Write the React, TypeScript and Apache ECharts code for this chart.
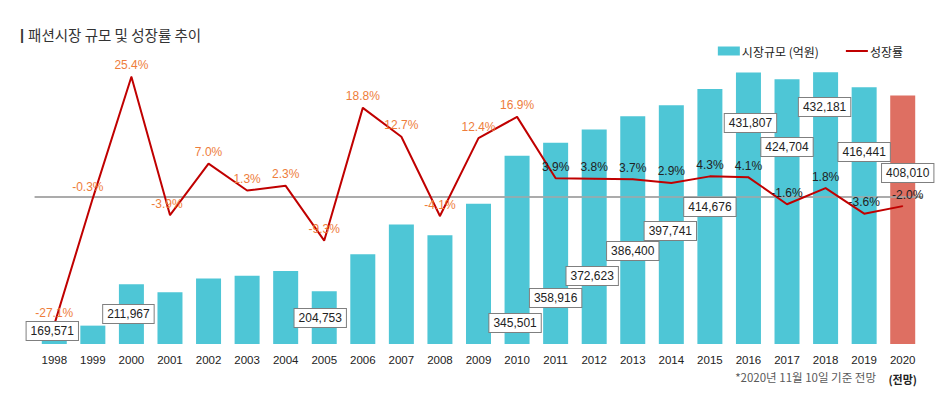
import React, { useEffect, useRef } from "react";
import * as echarts from "echarts";

const years = [
  "1998", "1999", "2000", "2001", "2002", "2003", "2004", "2005", "2006", "2007", "2008", "2009",
  "2010", "2011", "2012", "2013", "2014", "2015", "2016", "2017", "2018", "2019", "2020",
];
const marketSize = [
  169571, 169062, 211967, 203700, 217960, 220793, 225871, 204753, 243247, 274139, 262899, 295499,
  345501, 358916, 372623, 386400, 397741, 414676, 431807, 424704, 432181, 416441, 408010,
];
const growthRate = [
  -27.1, -0.3, 25.4, -3.9, 7.0, 1.3, 2.3, -9.3, 18.8, 12.7, -4.1, 12.4,
  16.9, 3.9, 3.8, 3.7, 2.9, 4.3, 4.1, -1.6, 1.8, -3.6, -2.0,
];
const labeledYears = [
  "1998", "2000", "2005", "2010", "2011", "2012", "2013", "2014", "2015", "2016", "2017", "2018", "2019", "2020",
];
const forecastYear = "2020";
const orangeLabelUntil = "2010";

// label placement (style): [dx, lift above baseline of the label centre]
const barLabelPlacement: Record<string, [number, number]> = {
  "1998": [-2, 13], "2000": [-3, 30], "2005": [-4, 26], "2010": [-2, 21], "2011": [0, 46],
  "2012": [-2, 68], "2013": [0, 93], "2014": [-1, 113], "2015": [0, 137], "2016": [2, 221],
  "2017": [0, 197], "2018": [-1, 237], "2019": [0, 192], "2020": [5, 171],
};
// small label nudges (style) for the growth-rate labels
const lineLabelNudge: Record<string, number> = { "1999": -5, "2001": -3, "2020": 5 };

const BAR = "#4EC6D6";
const FORECAST = "#DE6F62";
const LINE = "#C00000";
const ORANGE = "#EE7D3B";
const FONT = "'Liberation Sans', Arial, sans-serif";
const KFONT = "'Noto Sans CJK KR', 'Noto Sans', sans-serif";

export default function App() {
  const ref = useRef<HTMLDivElement>(null);
  useEffect(() => {
    document.body.style.margin = "0";
    if (!ref.current) return;
    const chart = echarts.init(ref.current, null, { renderer: "svg" });
    const BOXH = 18;
    const option: any = {
      animation: false,
      backgroundColor: "#ffffff",
      title: {
        text: "{b|| }패션시장 규모 및 성장률 추이",
        left: 15,
        top: 22,
        textStyle: {
          fontSize: 14.5,
          fontWeight: "normal",
          color: "#333333",
          fontFamily: KFONT,
          rich: { b: { fontSize: 14.5, fontWeight: "bold", color: "#333333", fontFamily: FONT } },
        },
      },
      legend: {
        right: 42,
        top: 40,
        itemWidth: 22,
        itemHeight: 9,
        itemGap: 26,
        textStyle: { fontSize: 12, color: "#222", fontFamily: KFONT, padding: [0, 0, 0, -3] },
        data: [
          { name: "시장규모 (억원)", icon: "rect" },
          { name: "성장률", itemStyle: { opacity: 0 } },
        ],
      },
      grid: { left: 35, right: 28, top: 55, bottom: 52 },
      xAxis: {
        type: "category",
        data: years,
        axisTick: { show: false },
        axisLine: { lineStyle: { color: "#A6A6A6", width: 1.5 } },
        axisLabel: {
          interval: 0,
          margin: 6,
          fontSize: 11.5,
          lineHeight: 19,
          color: "#222",
          fontFamily: "'Liberation Sans Narrow', 'Liberation Sans', Arial, sans-serif",
          formatter: (v: string) => (v === forecastYear ? v + "\n{f|(전망)}" : v),
          rich: { f: { fontSize: 11, fontWeight: "bold", fontFamily: KFONT, color: "#222", lineHeight: 19 } },
        },
      },
      yAxis: [
        { type: "value", min: 150000, max: 450000, show: false, splitLine: { show: false } },
        { type: "value", min: -31.2, max: 30, show: false, splitLine: { show: false } },
      ],
      series: [
        {
          name: "시장규모 (억원)",
          type: "bar",
          barWidth: 25,
          itemStyle: { color: BAR },
          z: 1,
          data: marketSize.map((v, i) =>
            years[i] === forecastYear ? { value: v, itemStyle: { color: FORECAST } } : v
          ),
        },
        {
          name: "성장률",
          type: "line",
          yAxisIndex: 1,
          symbol: "circle",
          symbolSize: 1,
          showSymbol: true,
          z: 3,
          lineStyle: { color: LINE, width: 2 },
          itemStyle: { color: LINE },
          label: {
            show: true,
            position: "top",
            distance: 5,
            fontSize: 12,
            fontFamily: FONT,
            formatter: (p: any) => Number(p.value).toFixed(1) + "%",
          },
          data: growthRate.map((v, i) => ({
            value: v,
            label: {
              color: years[i] <= orangeLabelUntil ? ORANGE : "#222",
              offset: [lineLabelNudge[years[i]] || 0, 0],
            },
          })),
          markLine: {
            silent: true,
            symbol: ["none", "none"],
            label: { show: false },
            lineStyle: { color: "#A6A6A6", width: 1.5, type: "solid" },
            data: [{ yAxis: 0 }],
            z: 2,
          },
        },
        {
          name: "labels",
          type: "bar",
          barWidth: 25,
          barGap: "-100%",
          z: 10,
          silent: true,
          itemStyle: { color: "rgba(0,0,0,0)" },
          data: marketSize.map((v, i) => {
            const y = years[i];
            const pl = barLabelPlacement[y];
            if (!labeledYears.includes(y) || !pl) return { value: v, label: { show: false } };
            return {
              value: v,
              label: {
                show: true,
                position: "insideBottom",
                distance: 0,
                offset: [pl[0], -(pl[1] - BOXH / 2)],
                formatter: (p: any) => Number(p.value).toLocaleString("en-US"),
                fontSize: 12,
                fontFamily: FONT,
                color: "#222",
                backgroundColor: "#ffffff",
                borderColor: "#7F7F7F",
                borderWidth: 1,
                padding: [2, 4],
                lineHeight: 14,
              },
            };
          }),
        },
      ],
      graphic: [
        {
          type: "text",
          right: 950 - 876,
          top: 371,
          style: { text: "*2020년 11월 10일 기준 전망", fontSize: 11.5, fill: "#595959", fontFamily: KFONT },
        },
      ],
    };
    chart.setOption(option);
    return () => chart.dispose();
  }, []);
  return <div ref={ref} style={{ width: 950, height: 396 }} />;
}
